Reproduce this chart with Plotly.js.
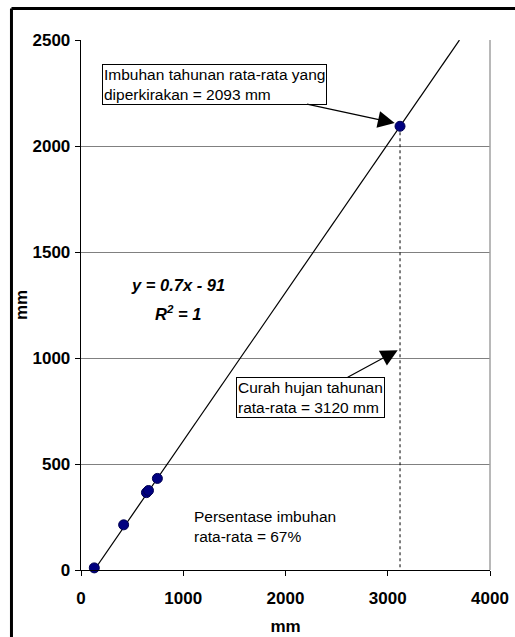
<!DOCTYPE html>
<html>
<head>
<meta charset="utf-8">
<script src="https://cdn.plot.ly/plotly-3.0.1.min.js"></script>
<style>
  html, body { margin: 0; padding: 0; background: #fff; }
  #chart { width: 515px; height: 637px; }
</style>
</head>
<body>
<div id="chart"></div>
<script>
// Observed data points (rainfall mm vs recharge mm)
const rainfallX = [130, 417, 640, 660, 747];
const rechargeY = [10, 213, 365, 375, 432];
// Estimated mean annual point
const meanRain = 3120;
const meanRecharge = 2093;
// Trendline y = 0.7x - 91
const slope = 0.7;
const intercept = -91;
const trendXStart = 130;
const trendXEnd = 3701;
// Axis ticks
const xTicks = [0, 1000, 2000, 3000, 4000];
const yTicks = [0, 500, 1000, 1500, 2000, 2500];

const trendX = [trendXStart, trendXEnd];
const trendY = trendX.map(x => slope * x + intercept);

const font = 'Arial, "Liberation Sans", Helvetica, sans-serif';

const traces = [
  {
    x: trendX, y: trendY, mode: 'lines', type: 'scatter',
    line: { color: '#000', width: 1.2 }, hoverinfo: 'skip', showlegend: false
  },
  {
    x: [meanRain, meanRain], y: [meanRecharge, 0], mode: 'lines', type: 'scatter',
    line: { color: '#000', width: 1, dash: 'dot' }, hoverinfo: 'skip', showlegend: false
  },
  {
    x: rainfallX.concat([meanRain]), y: rechargeY.concat([meanRecharge]),
    mode: 'markers', type: 'scatter',
    marker: { color: '#000080', size: 10, line: { color: '#000050', width: 1 } },
    showlegend: false, cliponaxis: false
  }
];

const layout = {
  width: 515, height: 637,
  margin: { l: 81, r: 25, t: 40, b: 67 },
  paper_bgcolor: '#fff', plot_bgcolor: '#fff',
  font: { family: font, color: '#000' },
  showlegend: false,
  xaxis: {
    range: [0, 4000], tickvals: xTicks, ticktext: xTicks.map(String),
    ticks: 'outside', ticklen: 5, tickcolor: '#000', tickwidth: 1,
    showline: true, linecolor: '#000', linewidth: 1.3,
    showgrid: false, zeroline: false,
    ticklabelstandoff: 7,
    tickfont: { family: font, size: 17, color: '#000', weight: 'bold' },
    title: { text: '<b>mm</b>', font: { family: font, size: 17, color: '#000' }, standoff: 13 }
  },
  yaxis: {
    range: [0, 2500], tickvals: yTicks, ticktext: yTicks.map(String),
    ticks: 'outside', ticklen: 5, tickcolor: '#000', tickwidth: 1,
    showline: true, linecolor: '#000', linewidth: 1.3,
    showgrid: true, gridcolor: '#808080', gridwidth: 1, zeroline: false,
    ticklabelstandoff: 1,
    tickfont: { family: font, size: 17, color: '#000', weight: 'bold' },
    title: { text: '<b>mm</b>', font: { family: font, size: 17, color: '#000' }, standoff: 0 }
  },
  shapes: [
    // plot area right border (grey)
    { type: 'line', xref: 'paper', yref: 'paper', x0: 1, x1: 1, y0: 0, y1: 1,
      line: { color: '#a0a0a0', width: 1.5 } },
    // outer chart border (left and top)
    { type: 'line', xref: 'paper', yref: 'paper', x0: -0.170, x1: -0.170, y0: -0.2, y1: 1.0594,
      line: { color: '#000', width: 3 } },
    { type: 'line', xref: 'paper', yref: 'paper', x0: -0.170, x1: 1.1, y0: 1.0594, y1: 1.0594,
      line: { color: '#000', width: 3 } }
  ],
  annotations: [
    {
      x: 3068, y: 2108, xref: 'x', yref: 'y',
      text: 'Imbuhan tahunan rata-rata yang<br>diperkirakan = 2093 mm',
      align: 'left', showarrow: true, ax: -180, ay: -39,
      arrowhead: 2, arrowsize: 2.8, arrowwidth: 1.2, arrowcolor: '#000',
      font: { family: font, size: 15.5, color: '#000' },
      bordercolor: '#000', borderwidth: 1, borderpad: 1, bgcolor: '#fff'
    },
    {
      x: 3097, y: 1037, xref: 'x', yref: 'y',
      text: 'Curah hujan tahunan<br>rata-rata = 3120 mm',
      align: 'left', showarrow: true, ax: -87, ay: 47,
      arrowhead: 2, arrowsize: 2.8, arrowwidth: 1.2, arrowcolor: '#000',
      font: { family: font, size: 15.5, color: '#000' },
      bordercolor: '#000', borderwidth: 1, borderpad: 1, bgcolor: '#fff'
    },
    {
      x: 947, y: 1344, xref: 'x', yref: 'y', xanchor: 'center', yanchor: 'middle',
      text: '<b><i>y = 0.7x - 91</i></b>',
      showarrow: false,
      font: { family: font, size: 16.5, color: '#000' }
    },
    {
      x: 947, y: 1210, xref: 'x', yref: 'y', xanchor: 'center', yanchor: 'middle',
      text: '<b><i>R<sup>2</sup> = 1</i></b>',
      showarrow: false,
      font: { family: font, size: 16.5, color: '#000' }
    },
    {
      x: 1084, y: 203, xref: 'x', yref: 'y', xanchor: 'left', yanchor: 'middle',
      text: 'Persentase imbuhan<br>rata-rata = 67%',
      align: 'left', showarrow: false,
      font: { family: font, size: 15.5, color: '#000' }
    }
  ]
};

Plotly.newPlot('chart', traces, layout, { displayModeBar: false, staticPlot: true });
</script>
</body>
</html>
